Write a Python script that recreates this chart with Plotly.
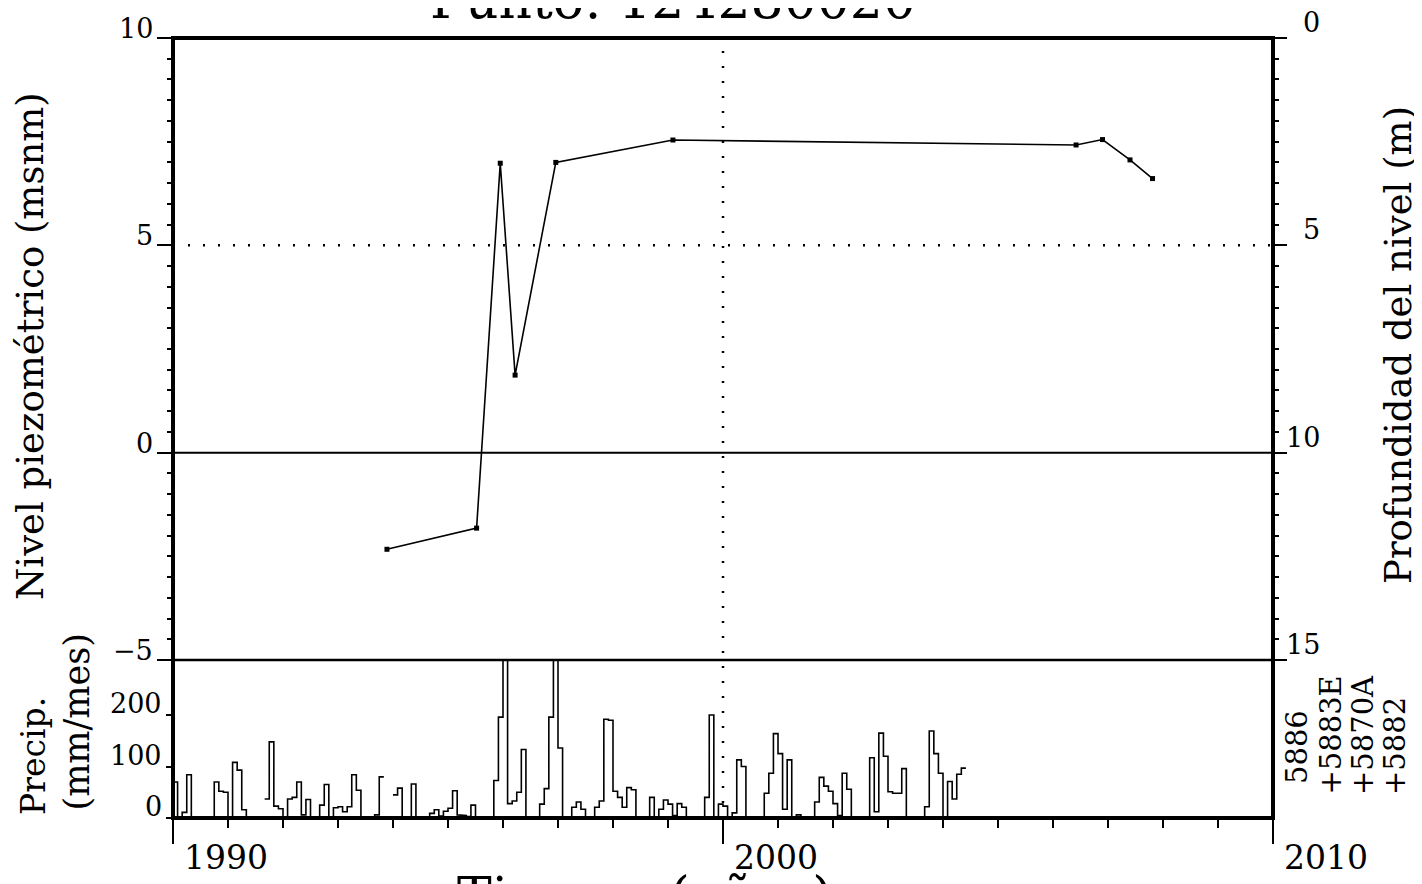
import plotly.graph_objects as go

# ---------------- data ----------------
# Piezometric level (m above sea level), decimal year
nivel_fecha = [1993.89, 1995.52, 1995.95, 1996.22, 1996.96, 1999.09,
               2006.42, 2006.90, 2007.40, 2007.81]
nivel_valor = [-2.33, -1.82, 6.98, 1.87, 7.00, 7.54, 7.42, 7.55, 7.06, 6.61]

# Monthly precipitation (mm/month) starting Jan 1990; None = no data
precip_inicio = 1990.0
precip_mm = [
    70, 1, 11, 84, 0, 0, 0, 0, 0, 70, 52, 50,            # 1990
    0, 108, 93, 16, 0, None, None, None, 37, 148, 23, 18,  # 1991
    0, 37, 40, 70, 6, 36, 0, 0, 25, 65, 0, 20,            # 1992
    22, 12, 22, 84, 54, 0, 0, 0, 6, 80, None, None,       # 1993
    45, 58, 0, 0, 66, 0, 0, 0, 9, 16, 4, 13,              # 1994
    19, 53, 6, 5, 3, 25, 0, 0, 0, 0, 73, 196,             # 1995
    400, 28, 33, 50, 133, 0, 0, 0, 27, 57, 196, 400,      # 1996
    136, 0, 0, 21, 31, 17, 0, 0, 21, 33, 192, 190,        # 1997
    52, 40, 21, 59, 55, 0, 0, 0, 40, 0, 17, 35,           # 1998
    27, 5, 28, 21, 0, 0, 0, 0, 40, 200, 0, 27,            # 1999
    23, 0, 10, 113, 100, 0, 0, 0, 0, 48, 87, 164,         # 2000
    125, 17, 113, 0, 6, 0, 0, 0, 31, 79, 62, 52,          # 2001
    28, 5, 87, 56, 0, 0, 0, 0, 117, 12, 165, 120,         # 2002
    51, 48, 48, 96, 0, 0, 0, 0, 22, 169, 125, 87,         # 2003
    0, 71, 37, 85, 97,                                     # 2004
]

estaciones = ["5886", "+5883E", "+5870A", "+5882"]

titulo = "Punto: 124280020"
x_ticks = [1990, 2000, 2010]
y_ticks = [-5, 0, 5, 10]
y_labels = ["\u22125", "0", "5", "10"]
prof_ticks = [0, 5, 10, 15]
prof_labels = ["0", "5", "10", "15"]
precip_ticks = [0, 100, 200]
precip_labels = ["0", "100", "200"]

# ---------------- build step path for precipitation ----------------
px_, py_ = [], []
for i, v in enumerate(precip_mm):
    x0 = precip_inicio + i / 12.0
    x1 = precip_inicio + (i + 1) / 12.0
    if v is None:
        px_.append(None)
        py_.append(None)
        continue
    px_ += [x0, x1]
    py_ += [v, v]

FONT = "DejaVu Serif"
OFF = 8  # page body margin in the browser
fig = go.Figure()

fig.add_trace(go.Scatter(x=px_, y=py_, xaxis="x", yaxis="y2", mode="lines",
                         line=dict(color="black", width=1.6), connectgaps=False,
                         hoverinfo="skip", showlegend=False))

fig.add_trace(go.Scatter(x=nivel_fecha, y=nivel_valor, xaxis="x", yaxis="y",
                         mode="lines+markers",
                         line=dict(color="black", width=1.6),
                         marker=dict(symbol="square", size=5, color="black"),
                         showlegend=False))

# depth axis trace (same data expressed as depth, invisible)
fig.add_trace(go.Scatter(x=nivel_fecha, y=[10 - v for v in nivel_valor],
                         xaxis="x", yaxis="y3", mode="markers",
                         marker=dict(opacity=0), hoverinfo="skip",
                         showlegend=False))

split = (818 - 660) / 780.0

fig.update_layout(
    width=1422 - OFF, height=884 - OFF,
    margin=dict(l=173 - OFF, r=(1422 - OFF) - (1273 - OFF), t=38 - OFF,
                b=(884 - OFF) - (818 - OFF), pad=0, autoexpand=False),
    paper_bgcolor="white", plot_bgcolor="white",
    font=dict(family=FONT, color="black"),
    showlegend=False,
    xaxis=dict(range=[1990, 2010], anchor="y2", tickvals=x_ticks,
               ticks="outside", ticklen=25, tickwidth=2, tickcolor="black",
               ticklabelposition="outside right",
               ticklabelshift=10, ticklabelstandoff=10,
               tickfont=dict(size=33, family=FONT),
               minor=dict(dtick=1, ticks="outside", ticklen=9, tickwidth=2,
                          tickcolor="black"),
               showgrid=False, zeroline=False, showline=False, automargin=False),
    yaxis=dict(domain=[split, 1], range=[-5, 10], anchor="x",
               tickvals=y_ticks, ticks="outside", ticklen=15, tickwidth=2,
               tickcolor="black", showticklabels=False,
               minor=dict(dtick=0.5, ticks="outside", ticklen=5, tickwidth=2,
                          tickcolor="black"),
               showgrid=False, zeroline=False, showline=False, automargin=False),
    yaxis2=dict(domain=[0, split], range=[0, 307], anchor="x",
                tickvals=precip_ticks, ticks="outside", ticklen=6, tickwidth=2,
                tickcolor="black", showticklabels=False,
                showgrid=False, zeroline=False, showline=False, automargin=False),
    yaxis3=dict(overlaying="y", side="right", anchor="x", range=[15, 0],
                tickvals=prof_ticks, ticks="outside", ticklen=13, tickwidth=2,
                tickcolor="black", showticklabels=False,
                minor=dict(dtick=0.5, ticks="outside", ticklen=5, tickwidth=2,
                           tickcolor="black"),
                showgrid=False, zeroline=False, showline=False, automargin=False),
)

shapes = [
    dict(type="line", xref="paper", yref="y", x0=0, x1=1, y0=5, y1=5,
         line=dict(color="black", width=2.5, dash="2px,13px")),
    dict(type="line", xref="x", yref="paper", x0=2000, x1=2000, y0=0, y1=1,
         line=dict(color="black", width=2.5, dash="2px,13px")),
    dict(type="line", xref="paper", yref="y", x0=0, x1=1, y0=0, y1=0,
         line=dict(color="black", width=2)),
    dict(type="line", xref="paper", yref="paper", x0=0, x1=1, y0=split, y1=split,
         line=dict(color="black", width=2.4)),
    dict(type="rect", xref="paper", yref="paper", x0=0, x1=1, y0=0, y1=1,
         line=dict(color="black", width=4)),
]
fig.update_layout(shapes=shapes)


def px_x(p):
    return (p - 173) / 1100.0


def px_y(p):
    return (818 - p) / 780.0


ann = [
    dict(text=titulo, x=px_x(673), y=px_y(32), xanchor="center", yanchor="bottom",
         font=dict(size=52, family=FONT)),
    dict(text="Tiempo (años)", x=px_x(645), y=px_y(864), xanchor="center",
         yanchor="top", font=dict(size=52, family=FONT)),
    dict(text="Nivel piezométrico (msnm)", x=px_x(30), y=px_y(346),
         xanchor="center", yanchor="middle", textangle=-90,
         font=dict(size=37, family=FONT)),
    dict(text="Profundidad del nivel (m)", x=px_x(1398), y=px_y(345),
         xanchor="center", yanchor="middle", textangle=-90,
         font=dict(size=37, family=FONT)),
    dict(text="Precip.", x=px_x(33), y=px_y(817), xanchor="center",
         yanchor="bottom", textangle=-90, font=dict(size=33, family=FONT)),
    dict(text="(mm/mes)", x=px_x(76), y=px_y(813), xanchor="center",
         yanchor="bottom", textangle=-90, font=dict(size=35, family=FONT)),
]
for a in ann:
    a.update(xref="paper", yref="paper")

st_x = [1297, 1330, 1363, 1395]
st_y = [786, 797, 797, 797]
for t, xx, yy in zip(estaciones, st_x, st_y):
    ann.append(dict(text=t, x=px_x(xx), y=px_y(yy), xanchor="center",
                    yanchor="bottom", textangle=-90, xref="paper", yref="paper",
                    font=dict(size=29, family=FONT)))

# tick labels sitting just above their ticks
for v, t in zip(y_ticks, y_labels):
    ann.append(dict(text=t, x=px_x(155), y=v, xref="paper", yref="y",
                    xanchor="right", yanchor="bottom", yshift=-8,
                    font=dict(size=27, family=FONT)))
for v, t in zip(precip_ticks, precip_labels):
    ann.append(dict(text=t, x=px_x(164), y=v, xref="paper", yref="y2",
                    xanchor="right", yanchor="bottom", yshift=-6,
                    font=dict(size=27, family=FONT)))
for v, t in zip(prof_ticks, prof_labels):
    ann.append(dict(text=t, x=px_x(1322), y=v, xref="paper", yref="y3",
                    xanchor="right", yanchor="bottom", yshift=-2,
                    font=dict(size=27, family=FONT)))

for a in ann:
    a.update(showarrow=False)
fig.update_layout(annotations=ann)

fig.write_html("out.html")
